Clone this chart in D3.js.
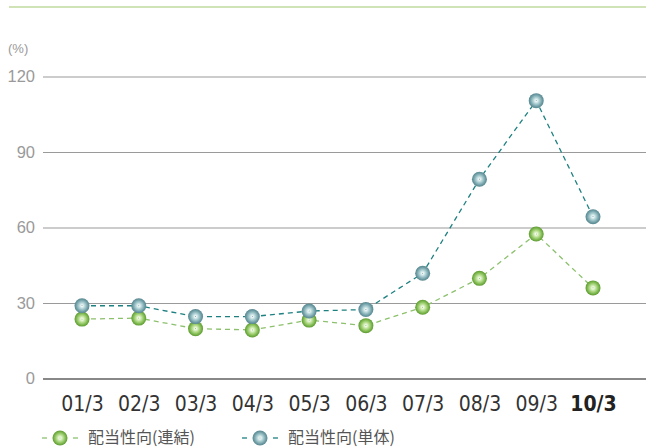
<!DOCTYPE html>
<html><head><meta charset="utf-8">
<script src="https://cdn.jsdelivr.net/npm/d3@7"></script>
<style>body{margin:0;background:#fff}svg{display:block}</style>
</head><body>
<script>
const categories = ["01/3","02/3","03/3","04/3","05/3","06/3","07/3","08/3","09/3","10/3"];
const consolidated = [23.6,24.0,19.8,19.3,23.2,21.0,28.3,39.8,57.4,36.0];
const nonConsolidated = [28.9,28.9,24.6,24.6,26.8,27.4,41.8,79.2,110.4,64.3];
const yTicks = [0,30,60,90,120];
const seriesNames = ["配当性向(連結)","配当性向(単体)"];
const unitLabel = "(%)";

const W=646,H=447;
const svg=d3.select("body").append("svg").attr("width",W).attr("height",H);
const defs=svg.append("defs");
function grad(id,stops){
  const g=defs.append("radialGradient").attr("id",id).attr("cx","50%").attr("cy","50%").attr("r","50%");
  stops.forEach(s=>g.append("stop").attr("offset",s[0]).attr("stop-color",s[1]));
}
grad("gGreen",[["0%","#8cc46a"],["12%","#f2fae8"],["45%","#b4dc8c"],["80%","#78b448"],["100%","#5e9a34"]]);
grad("gTeal",[["0%","#7eaab0"],["12%","#eef6f6"],["45%","#a8ccd0"],["80%","#6e9ca4"],["100%","#588890"]]);

const x=d3.scalePoint().domain(categories).range([82,593]);
const y=d3.scaleLinear().domain([0,120]).range([378.5,76.5]);

// top rule
svg.append("line").attr("x1",9).attr("x2",W).attr("y1",7).attr("y2",7)
  .attr("stroke","#cfe3b6").attr("stroke-width",2);

svg.append("text").attr("x",8).attr("y",53).text(unitLabel)
  .attr("font-family","Liberation Sans, Arial, sans-serif").attr("font-size",13).attr("fill","#999");

// grid
const yAxis=d3.axisLeft(y).tickValues(yTicks).tickSize(-(W-43)).tickPadding(8);
const ga=svg.append("g").attr("transform","translate(43,0)").call(yAxis);
ga.select(".domain").remove();
ga.selectAll(".tick line").attr("stroke",d=>d===0?"#888":"#9a9a9a").attr("stroke-width",d=>d===0?2:1.2);
ga.selectAll(".tick text").attr("font-family","Liberation Sans, Arial, sans-serif").attr("font-size",16.5)
  .attr("fill","#9a9a9a");

// x labels
const xAxis=d3.axisBottom(x).tickSize(0).tickPadding(0);
const gx=svg.append("g").attr("transform","translate(0,411)").call(xAxis);
gx.select(".domain").remove();
gx.selectAll(".tick text").attr("font-family","'Liberation Sans Narrow', 'Arial Narrow', 'DejaVu Sans Condensed', sans-serif")
  .attr("font-size",21).attr("y",0).attr("dy",0)
  .attr("font-weight",(d,i)=>i===categories.length-1?"bold":"normal")
  .attr("fill",(d,i)=>i===categories.length-1?"#222":"#333");

const series=[
  {vals:consolidated,line:"#8cc06c",fill:"url(#gGreen)"},
  {vals:nonConsolidated,line:"#1e8080",fill:"url(#gTeal)"}
];
const lineGen=d3.line().x((d,i)=>x(categories[i])).y(d=>y(d));
series.forEach(s=>{
  svg.append("path").datum(s.vals).attr("d",lineGen).attr("fill","none")
    .attr("stroke",s.line).attr("stroke-width",1.3).attr("stroke-dasharray","5,4");
});
series.forEach(s=>{
  svg.selectAll(null).data(s.vals).enter().append("circle")
    .attr("cx",(d,i)=>x(categories[i])).attr("cy",d=>y(d)).attr("r",7.5)
    .attr("fill",s.fill);
});

// legend
const leg=[{x:60,text:seriesNames[0],s:series[0]},{x:260,text:seriesNames[1],s:series[1]}];
leg.forEach(l=>{
  const g=svg.append("g");
  g.append("line").attr("x1",l.x-18).attr("x2",l.x-13).attr("y1",438).attr("y2",438).attr("stroke",l.s.line).attr("stroke-width",1.3);
  g.append("line").attr("x1",l.x+13).attr("x2",l.x+18).attr("y1",438).attr("y2",438).attr("stroke",l.s.line).attr("stroke-width",1.3);
  g.append("circle").attr("cx",l.x).attr("cy",438).attr("r",7.5).attr("fill",l.s.fill);
  g.append("text").attr("x",l.x+28).attr("y",442.5).text(l.text)
    .attr("font-family","Noto Sans CJK JP, sans-serif").attr("font-size",16).attr("fill","#555");
});
</script>
</body></html>
